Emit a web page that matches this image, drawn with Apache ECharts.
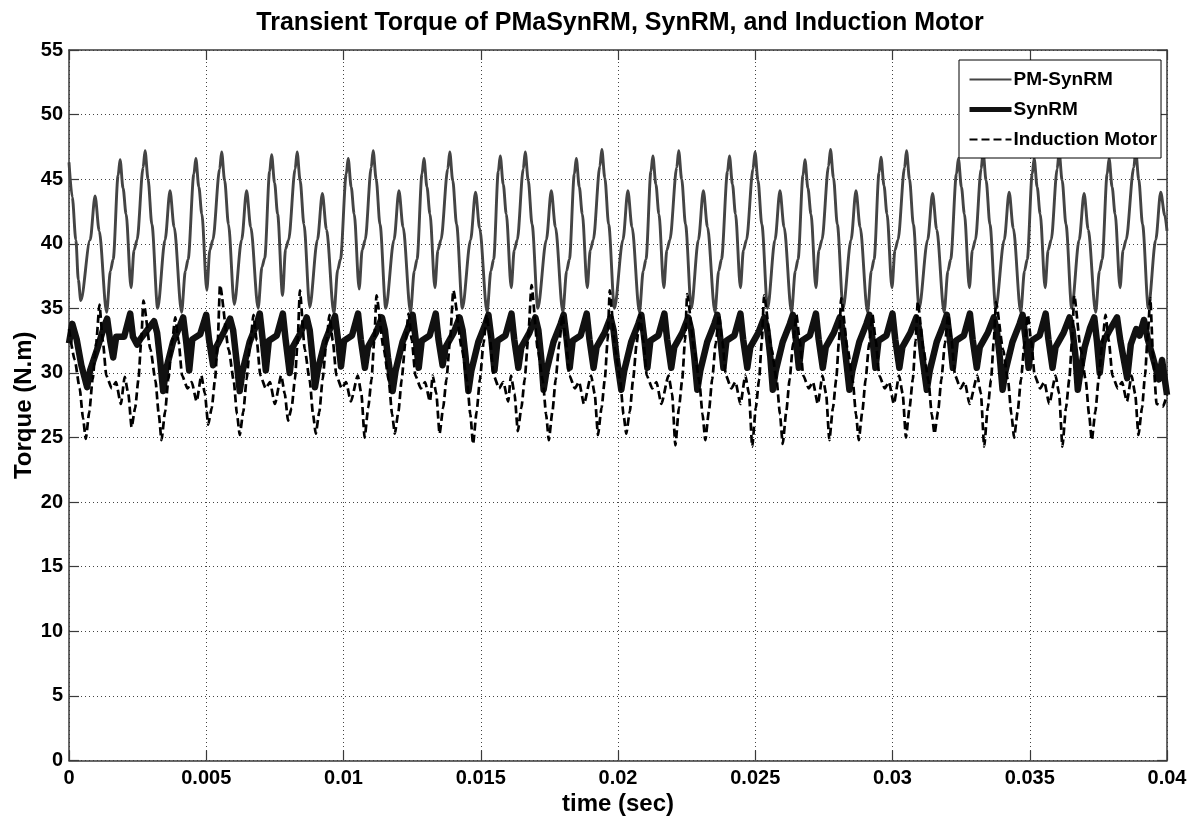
<!DOCTYPE html>
<html>
<head>
<meta charset="utf-8">
<script src="https://cdn.jsdelivr.net/npm/echarts@6/dist/echarts.min.js"></script>
<style>
html,body{margin:0;padding:0;background:#fff;}
#chart{width:1189px;height:825px;}
</style>
</head>
<body>
<div id="chart"></div>
<script>
// ---- data: [time (s), torque (N.m)] ----
const chartTitle = 'Transient Torque of PMaSynRM, SynRM, and Induction Motor';
const seriesNames = ['PM-SynRM', 'SynRM', 'Induction Motor'];
const xMin = 0, xMax = 0.04, xStep = 0.005;
const yMin = 0, yMax = 55, yStep = 5;

const pmSynRM = [
[0,46.3],[0.00012,43.6],[0.00025,40.3],[0.00034,37.2],[0.00043,35.6],
[0.00077,40.3],[0.00095,43.7],[0.0011,41.0],[0.00137,34.7],[0.00151,37.9],[0.00161,38.8],
[0.00179,45.3],[0.00186,46.5],[0.00197,44.3],[0.00208,42.3],[0.00226,36.6],[0.00237,39.5],[0.00248,40.3],
[0.0027,45.9],[0.00277,47.2],[0.00288,45.0],[0.00302,41.5],[0.00323,35.0],
[0.0035,40.3],[0.00368,44.1],[0.00383,41.3],[0.0041,34.7],[0.00424,37.9],[0.00434,38.8],
[0.00455,45.4],[0.00462,46.6],[0.00473,44.4],[0.00484,42.3],[0.00502,36.4],[0.00513,39.5],[0.00524,40.3],
[0.00549,45.8],[0.00556,47.1],[0.00567,44.9],[0.00581,41.5],[0.00602,35.3],
[0.00629,40.3],[0.00647,44.1],[0.00662,41.3],[0.00689,35.0],[0.00703,38.2],[0.00713,38.9],
[0.00731,45.6],[0.00738,46.9],[0.00749,44.7],[0.0076,42.3],[0.00778,36.0],[0.00789,39.6],[0.008,40.3],
[0.00824,45.8],[0.00831,47.1],[0.00842,44.9],[0.00856,41.5],[0.00877,35.1],
[0.00905,40.3],[0.00923,43.9],[0.00938,41.1],[0.00965,34.6],[0.00979,38.0],[0.00989,38.8],
[0.0101,45.4],[0.01017,46.6],[0.01028,44.4],[0.01039,42.3],[0.01057,36.5],[0.01068,39.5],[0.01079,40.3],
[0.01101,45.9],[0.01108,47.2],[0.01119,45.0],[0.01133,41.5],[0.01154,35.0],
[0.01184,40.3],[0.01202,44.1],[0.01217,41.3],[0.01244,34.7],[0.01258,37.9],[0.01268,38.8],
[0.01286,45.4],[0.01293,46.6],[0.01304,44.4],[0.01315,42.3],[0.01333,36.6],[0.01344,39.5],[0.01355,40.3],
[0.0138,45.8],[0.01387,47.1],[0.01398,44.9],[0.01412,41.5],[0.01433,35.0],
[0.01463,40.3],[0.01481,44.0],[0.01496,41.2],[0.01523,34.7],[0.01537,37.9],[0.01547,38.8],
[0.01564,45.6],[0.01571,46.8],[0.01582,44.6],[0.01593,42.3],[0.01611,36.6],[0.01622,39.5],[0.01633,40.3],
[0.01655,45.8],[0.01662,47.1],[0.01673,44.9],[0.01687,41.5],[0.01708,35.0],
[0.01739,40.3],[0.01757,44.1],[0.01772,41.3],[0.01799,34.7],[0.01813,37.9],[0.01823,38.8],
[0.01841,45.4],[0.01848,46.6],[0.01859,44.4],[0.0187,42.3],[0.01888,36.6],[0.01899,39.5],[0.0191,40.3],
[0.01934,46.0],[0.01941,47.3],[0.01952,45.1],[0.01966,41.5],[0.01987,35.0],
[0.02018,40.3],[0.02036,44.1],[0.02051,41.3],[0.02078,34.7],[0.02092,37.9],[0.02102,38.8],
[0.0212,45.6],[0.02127,46.8],[0.02138,44.6],[0.02149,42.3],[0.02167,36.6],[0.02178,39.5],[0.02189,40.3],
[0.02214,45.9],[0.02221,47.2],[0.02232,45.0],[0.02246,41.5],[0.02267,35.0],
[0.02293,40.3],[0.02311,44.1],[0.02326,41.3],[0.02353,34.7],[0.02367,37.9],[0.02377,38.8],
[0.02399,45.6],[0.02406,46.8],[0.02417,44.6],[0.02428,42.3],[0.02446,36.6],[0.02457,39.5],[0.02468,40.3],
[0.02492,45.8],[0.02499,47.1],[0.0251,44.9],[0.02524,41.5],[0.02545,35.0],
[0.02572,40.3],[0.0259,44.1],[0.02605,41.3],[0.02632,34.7],[0.02646,37.9],[0.02656,38.8],
[0.02674,45.3],[0.02681,46.5],[0.02692,44.3],[0.02703,42.3],[0.02721,36.6],[0.02732,39.5],[0.02743,40.3],
[0.02767,46.0],[0.02774,47.3],[0.02785,45.1],[0.02799,41.5],[0.0282,35.0],
[0.02849,40.3],[0.02867,44.1],[0.02882,41.3],[0.02909,34.7],[0.02923,37.9],[0.02933,38.8],
[0.02951,45.5],[0.02958,46.7],[0.02969,44.5],[0.0298,42.3],[0.02998,36.6],[0.03009,39.5],[0.0302,40.3],
[0.03044,45.9],[0.03051,47.2],[0.03062,45.0],[0.03076,41.5],[0.03097,35.0],
[0.03128,40.3],[0.03146,43.9],[0.03161,41.1],[0.03188,34.7],[0.03202,37.9],[0.03212,38.8],
[0.03233,45.4],[0.0324,46.6],[0.03251,44.4],[0.03262,42.3],[0.0328,36.6],[0.03291,39.5],[0.03302,40.3],
[0.03323,45.8],[0.0333,47.1],[0.03341,44.9],[0.03355,41.5],[0.03376,35.0],
[0.03407,40.3],[0.03425,44.0],[0.0344,41.2],[0.03467,34.7],[0.03481,37.9],[0.03491,38.8],
[0.03509,45.4],[0.03516,46.6],[0.03527,44.4],[0.03538,42.3],[0.03556,36.6],[0.03567,39.5],[0.03578,40.3],
[0.036,45.8],[0.03607,47.1],[0.03618,44.9],[0.03632,41.5],[0.03653,35.0],
[0.0368,40.3],[0.03698,43.9],[0.03713,41.1],[0.0374,34.7],[0.03754,37.9],[0.03764,38.8],
[0.03782,45.4],[0.03789,46.6],[0.038,44.4],[0.03811,42.3],[0.03829,36.6],[0.0384,39.5],[0.03851,40.3],
[0.03879,45.9],[0.03886,47.2],[0.03897,45.0],[0.03911,41.5],[0.03932,35.0],
[0.03959,40.3],[0.03977,44.0],[0.03992,42.2],[0.04,41.0]
];

const synRM = [
[0,32.3],[0.00012,33.8],[0.00028,32.6],[0.00045,30.6],
[0.00066,28.9],[0.00077,30.2],[0.00102,31.8],[0.00128,33.6],[0.00139,34.2],[0.0015,32.5],[0.00161,31.2],[0.00172,32.8],[0.00201,32.8],[0.00223,34.6],[0.00233,32.8],[0.00248,32.2],[0.00259,32.6],[0.00288,33.4],[0.0031,34.0],[0.00321,33.1],[0.00332,31.0],
[0.00343,28.6],[0.00354,30.3],[0.00379,32.4],[0.00405,33.7],[0.00416,34.3],[0.00427,32.4],[0.00438,30.2],[0.00449,32.6],[0.00478,33.0],[0.005,34.5],[0.0051,32.6],[0.00525,30.6],[0.00536,32.0],[0.00565,33.2],[0.00587,34.2],[0.00598,33.3],[0.00609,31.2],
[0.00622,28.6],[0.00633,30.2],[0.00658,32.4],[0.00684,33.8],[0.00695,34.6],[0.00706,32.5],[0.00717,30.2],[0.00728,32.5],[0.00757,32.9],[0.00779,34.6],[0.00789,32.6],[0.00804,30.0],[0.00815,32.0],[0.00844,33.1],[0.00866,34.3],[0.00877,33.3],[0.00888,31.0],
[0.00896,28.9],[0.00907,30.3],[0.00932,32.4],[0.00958,33.8],[0.00969,34.4],[0.0098,32.6],[0.00991,30.5],[0.01002,32.5],[0.01031,32.9],[0.01053,34.6],[0.01063,32.6],[0.01078,30.4],[0.01089,32.0],[0.01118,33.1],[0.0114,34.3],[0.01151,33.3],[0.01162,31.2],
[0.01179,28.6],[0.0119,30.2],[0.01215,32.4],[0.01241,33.8],[0.01252,34.5],[0.01263,32.6],[0.01274,30.4],[0.01285,32.5],[0.01314,32.9],[0.01336,34.6],[0.01346,32.6],[0.01361,30.6],[0.01372,32.0],[0.01401,33.1],[0.01423,34.3],[0.01434,33.3],[0.01445,31.2],
[0.01455,28.6],[0.01466,30.2],[0.01491,32.4],[0.01517,33.8],[0.01528,34.5],[0.01539,32.6],[0.0155,30.2],[0.01561,32.5],[0.0159,32.9],[0.01612,34.6],[0.01622,32.6],[0.01637,30.4],[0.01648,32.0],[0.01677,33.1],[0.01699,34.3],[0.0171,33.3],[0.01721,31.0],
[0.01729,28.7],[0.0174,30.2],[0.01765,32.4],[0.01791,33.8],[0.01802,34.5],[0.01813,32.6],[0.01824,30.4],[0.01835,32.5],[0.01864,32.9],[0.01886,34.6],[0.01896,32.6],[0.01911,30.4],[0.01922,32.0],[0.01951,33.1],[0.01973,34.3],[0.01984,33.3],[0.01995,31.2],
[0.02012,28.7],[0.02023,30.2],[0.02048,32.4],[0.02074,33.8],[0.02085,34.5],[0.02096,32.6],[0.02107,30.4],[0.02118,32.5],[0.02147,32.9],[0.02169,34.6],[0.02179,32.6],[0.02194,30.4],[0.02205,32.0],[0.02234,33.1],[0.02256,34.3],[0.02267,33.3],[0.02278,31.2],
[0.02289,28.7],[0.023,30.2],[0.02325,32.4],[0.02351,33.8],[0.02362,34.5],[0.02373,32.6],[0.02384,30.4],[0.02395,32.5],[0.02424,32.9],[0.02446,34.6],[0.02456,32.6],[0.02471,30.4],[0.02482,32.0],[0.02511,33.1],[0.02533,34.3],[0.02544,33.3],[0.02555,31.2],
[0.02564,28.7],[0.02575,30.2],[0.026,32.4],[0.02626,33.8],[0.02637,34.5],[0.02648,32.6],[0.02659,30.4],[0.0267,32.5],[0.02699,32.9],[0.02721,34.6],[0.02731,32.6],[0.02746,30.4],[0.02757,32.0],[0.02786,33.1],[0.02808,34.3],[0.02819,33.3],[0.0283,31.2],
[0.02843,28.7],[0.02854,30.2],[0.02879,32.4],[0.02905,33.8],[0.02916,34.5],[0.02927,32.6],[0.02938,30.4],[0.02949,32.5],[0.02978,32.9],[0.03,34.6],[0.0301,32.6],[0.03025,30.4],[0.03036,32.0],[0.03065,33.1],[0.03087,34.3],[0.03098,33.3],[0.03109,31.2],
[0.03125,28.7],[0.03136,30.2],[0.03161,32.4],[0.03187,33.8],[0.03198,34.5],[0.03209,32.6],[0.0322,30.4],[0.03231,32.5],[0.0326,32.9],[0.03282,34.6],[0.03292,32.6],[0.03307,30.4],[0.03318,32.0],[0.03347,33.1],[0.03369,34.3],[0.0338,33.3],[0.03391,31.2],
[0.03401,28.7],[0.03412,30.2],[0.03437,32.4],[0.03463,33.8],[0.03474,34.5],[0.03485,32.6],[0.03496,30.4],[0.03507,32.5],[0.03536,32.9],[0.03558,34.6],[0.03568,32.6],[0.03583,30.4],[0.03594,32.0],[0.03623,33.1],[0.03645,34.3],[0.03656,33.3],[0.03667,31.2],
[0.03675,28.7],[0.03686,30.3],[0.037,32.0],[0.0372,33.5],[0.03735,34.3],[0.03745,32.4],[0.03755,30.0],[0.03768,32.4],[0.03788,33.2],[0.03818,34.3],[0.0383,32.5],[0.03855,29.6],[0.03868,32.2],[0.03888,33.4],[0.039,32.9],[0.03916,34.1],[0.0393,32.6],[0.03945,31.5],[0.0397,29.5],[0.03982,31.0],[0.04,28.3]
];

const inductionMotor = [
[0,33.4],[0.00021,31.0],[0.00039,28.8],[0.00051,26.5],
[0.00061,24.9],[0.00074,27.0],[0.00086,29.5],[0.00099,32.3],[0.00111,35.3],[0.00123,32.5],[0.00136,29.8],[0.00156,28.8],[0.00171,29.3],[0.00189,27.6],[0.00203,29.7],[0.00216,28.4],[0.00228,25.8],[0.00241,27.3],[0.00253,29.5],[0.00263,32.5],[0.00271,35.6],[0.00297,31.8],[0.00315,29.4],[0.00327,26.8],
[0.00337,24.8],[0.0035,27.0],[0.00362,29.5],[0.00375,32.3],[0.00387,34.3],[0.00399,32.5],[0.00412,29.8],[0.00432,28.8],[0.00447,29.3],[0.00465,27.8],[0.00482,29.8],[0.00495,28.4],[0.00507,26.0],[0.0052,27.3],[0.00532,29.5],[0.00542,32.5],[0.0055,36.8],[0.00582,31.8],[0.006,29.4],[0.00612,26.8],
[0.00622,25.2],[0.00635,27.0],[0.00647,29.5],[0.0066,32.3],[0.00672,34.5],[0.00684,32.5],[0.00697,29.8],[0.00717,28.8],[0.00732,29.3],[0.0075,27.6],[0.00773,29.8],[0.00786,28.4],[0.00798,26.3],[0.00811,27.3],[0.00823,29.5],[0.00833,32.5],[0.00841,36.4],[0.00859,31.8],[0.00877,29.4],[0.00889,26.8],
[0.00899,25.3],[0.00912,27.0],[0.00924,29.5],[0.00937,32.3],[0.00949,34.5],[0.00961,32.5],[0.00974,29.8],[0.00994,28.8],[0.01009,29.3],[0.01027,27.8],[0.01052,29.8],[0.01065,28.4],[0.01077,25.0],[0.0109,27.3],[0.01102,29.5],[0.01112,32.5],[0.0112,36.0],[0.01147,31.8],[0.01165,29.4],[0.01177,26.8],
[0.01187,25.3],[0.012,27.0],[0.01212,29.5],[0.01225,32.3],[0.01237,34.6],[0.01249,32.5],[0.01262,29.8],[0.01282,28.8],[0.01297,29.3],[0.01315,27.8],[0.01325,29.8],[0.01338,28.4],[0.0135,25.3],[0.01363,27.3],[0.01375,29.5],[0.01388,32.5],[0.014,36.4],[0.01432,31.8],[0.0145,29.4],[0.01462,26.8],
[0.01472,24.5],[0.01485,27.0],[0.01497,29.5],[0.0151,32.3],[0.01522,34.5],[0.01534,32.5],[0.01547,29.8],[0.01567,28.8],[0.01582,29.3],[0.016,27.8],[0.0161,29.8],[0.01623,28.4],[0.01635,25.5],[0.01648,27.3],[0.0166,29.5],[0.01672,32.5],[0.01685,36.8],[0.01708,31.8],[0.01726,29.4],[0.01738,26.8],
[0.01748,24.8],[0.01761,27.0],[0.01773,29.5],[0.01786,32.3],[0.01798,34.5],[0.0181,32.5],[0.01823,29.8],[0.01843,28.8],[0.01858,29.3],[0.01876,27.6],[0.01902,29.8],[0.01915,28.4],[0.01927,25.2],[0.0194,27.3],[0.01952,29.5],[0.01962,32.5],[0.0197,36.4],[0.0199,31.8],[0.02008,29.4],[0.0202,26.8],
[0.0203,25.3],[0.02043,27.0],[0.02055,29.5],[0.02068,32.3],[0.0208,34.5],[0.02092,32.5],[0.02105,29.8],[0.02125,28.8],[0.0214,29.3],[0.02158,27.6],[0.02184,29.8],[0.02197,28.4],[0.02209,24.4],[0.02222,27.3],[0.02234,29.5],[0.02244,32.5],[0.02252,36.1],[0.02278,31.8],[0.02296,29.4],[0.02308,26.8],
[0.02318,24.8],[0.02331,27.0],[0.02343,29.5],[0.02356,32.3],[0.02368,34.5],[0.0238,32.5],[0.02393,29.8],[0.02413,28.8],[0.02428,29.3],[0.02446,27.6],[0.02464,29.8],[0.02477,28.4],[0.02489,24.3],[0.02502,27.3],[0.02514,29.5],[0.02524,32.5],[0.02532,36.0],[0.0256,31.8],[0.02578,29.4],[0.0259,26.8],
[0.026,24.5],[0.02613,27.0],[0.02625,29.5],[0.02638,32.3],[0.0265,34.5],[0.02662,32.5],[0.02675,29.8],[0.02695,28.8],[0.0271,29.3],[0.02728,27.6],[0.02745,29.8],[0.02758,28.4],[0.0277,24.8],[0.02783,27.3],[0.02795,29.5],[0.02805,32.5],[0.02813,35.8],[0.02837,31.8],[0.02855,29.4],[0.02867,26.8],
[0.02877,24.8],[0.0289,27.0],[0.02902,29.5],[0.02915,32.3],[0.02927,34.5],[0.02939,32.5],[0.02952,29.8],[0.02972,28.8],[0.02987,29.3],[0.03005,27.6],[0.03024,29.8],[0.03037,28.4],[0.03049,25.0],[0.03062,27.3],[0.03074,29.5],[0.03084,32.5],[0.03092,35.5],[0.03113,31.8],[0.03131,29.4],[0.03143,26.8],
[0.03153,25.3],[0.03166,27.0],[0.03178,29.5],[0.03191,32.3],[0.03203,34.5],[0.03215,32.5],[0.03228,29.8],[0.03248,28.8],[0.03263,29.3],[0.03281,27.6],[0.03309,29.8],[0.03322,28.4],[0.03334,24.3],[0.03347,27.3],[0.03359,29.5],[0.03369,32.5],[0.03377,35.5],[0.03403,31.8],[0.03421,29.4],[0.03433,26.8],
[0.03443,25.0],[0.03456,27.0],[0.03468,29.5],[0.03481,32.3],[0.03493,34.5],[0.03505,32.5],[0.03518,29.8],[0.03538,28.8],[0.03553,29.3],[0.03571,27.6],[0.03594,29.8],[0.03607,28.4],[0.03619,24.3],[0.03632,27.3],[0.03644,29.5],[0.03654,32.5],[0.03662,36.0],[0.03686,31.8],[0.03704,29.4],[0.03716,26.8],
[0.03726,24.8],[0.03739,27.0],[0.03751,29.5],[0.03764,32.3],[0.03776,34.5],[0.03788,32.5],[0.03801,29.8],[0.03821,28.8],[0.03836,29.3],[0.03854,27.8],[0.03871,29.8],[0.03884,28.4],[0.03896,25.2],[0.03909,27.3],[0.0392,29.8],[0.0393,33.0],[0.03939,35.8],[0.0395,31.0],[0.03962,27.6],[0.03985,27.4],[0.04,28.3]
];

// ---- chart ----
const mainFont = "'Liberation Sans',Arial,Helvetica,sans-serif";
const chart = echarts.init(document.getElementById('chart'), null, {renderer: 'canvas'});
const gridLine = {show: true, lineStyle: {color: '#444', width: 1, type: [1, 3]}};
const axisLineStyle = {show: true, onZero: false, lineStyle: {color: '#3a3a3a', width: 1.5}};
const tickStyle = {show: true, inside: true, length: 10, lineStyle: {color: '#3a3a3a', width: 1.2}};
const fmtX = v => String(parseFloat(v.toFixed(3)));
const tickLabelStyle = {fontFamily: mainFont, fontWeight: 'bold', fontSize: 20, color: '#000'};
const legendTextStyle = {fontFamily: mainFont, fontWeight: 'bold', fontSize: 19, color: '#000'};
const nameStyle = {fontFamily: mainFont, fontWeight: 'bold', fontSize: 24, color: '#000'};

chart.setOption({
  animation: false,
  backgroundColor: '#fff',
  graphic: [{
    type: 'text', x: 620, y: 23, z: 10,
    style: {text: chartTitle, fill: '#000', font: "bold 25px " + mainFont,
            textAlign: 'center', textVerticalAlign: 'middle'}
  }],
  grid: {left: 69, right: 22, top: 50, bottom: 64.5, containLabel: false, outerBoundsMode: 'none'},
  legend: {
    orient: 'vertical', left: 959, top: 60,
    data: [
      {name: seriesNames[0], lineStyle: {width: 1.8}},
      {name: seriesNames[1], lineStyle: {width: 5}},
      {name: seriesNames[2], lineStyle: {width: 1.8}}
    ],
    backgroundColor: '#fff', borderColor: '#000', borderWidth: 1,
    padding: [10, 4, 9, 8], itemGap: 11, itemWidth: 42, itemHeight: 14,
    itemStyle: {opacity: 0},
    textStyle: Object.assign({padding: [0, 0, 0, -3]}, legendTextStyle),
    selectedMode: false
  },
  xAxis: [{
    type: 'value', min: xMin, max: xMax, interval: xStep,
    name: 'time (sec)', nameLocation: 'middle', nameGap: 32, nameMoveOverlap: false,
    nameTextStyle: nameStyle,
    axisLine: axisLineStyle, axisTick: tickStyle, splitLine: gridLine,
    axisLabel: Object.assign({formatter: fmtX, margin: 8}, tickLabelStyle)
  }, {
    type: 'value', position: 'top', min: xMin, max: xMax, interval: xStep,
    axisLine: axisLineStyle, axisTick: tickStyle, splitLine: {show: false}, axisLabel: {show: false}
  }],
  yAxis: [{
    type: 'value', min: yMin, max: yMax, interval: yStep,
    name: 'Torque (N.m)', nameLocation: 'middle', nameGap: 33, nameRotate: 90, nameMoveOverlap: false,
    nameTextStyle: nameStyle,
    axisLine: axisLineStyle, axisTick: tickStyle, splitLine: gridLine,
    axisLabel: Object.assign({margin: 6}, tickLabelStyle)
  }, {
    type: 'value', position: 'right', min: yMin, max: yMax, interval: yStep,
    axisLine: axisLineStyle, axisTick: tickStyle, splitLine: {show: false}, axisLabel: {show: false}
  }],
  series: [{
    name: seriesNames[0], type: 'line', data: pmSynRM, xAxisIndex: 0, yAxisIndex: 0,
    symbol: 'none', smooth: 0.3, smoothMonotone: 'x',
    lineStyle: {color: '#444', width: 2.9}, itemStyle: {color: '#444'}
  }, {
    name: seriesNames[1], type: 'line', data: synRM, xAxisIndex: 0, yAxisIndex: 0,
    symbol: 'none', smooth: false,
    lineStyle: {color: '#111', width: 6.5, join: 'round'}, itemStyle: {color: '#111'}
  }, {
    name: seriesNames[2], type: 'line', data: inductionMotor, xAxisIndex: 0, yAxisIndex: 0,
    symbol: 'none', smooth: 0.2, smoothMonotone: 'x',
    lineStyle: {color: '#000', width: 2.7, type: [8, 4]}, itemStyle: {color: '#000'}
  }]
});
</script>
</body>
</html>
